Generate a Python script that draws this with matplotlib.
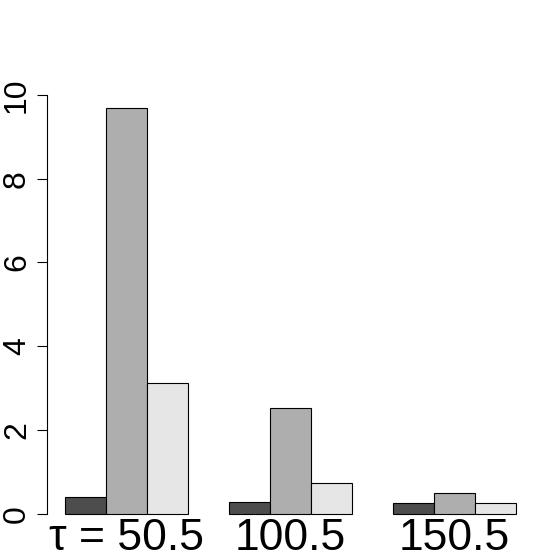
import matplotlib
matplotlib.use("Agg")
import matplotlib.pyplot as plt
import matplotlib.transforms as mtransforms
import numpy as np

groups = ["τ = 50.5", "100.5", "150.5"]
series_dark = [0.41, 0.29, 0.26]
series_mid = [9.68, 2.52, 0.49]
series_light = [3.12, 0.73, 0.26]
yticks = [0, 2, 4, 6, 8, 10]
colors = ["#4D4D4D", "#AEAEAE", "#E6E6E6"]

plt.rcParams['font.family'] = ['Liberation Sans', 'DejaVu Sans']

W, H = 553, 552
fig = plt.figure(figsize=(W / 100, H / 100), dpi=100)
left, right, top, bottom = 47, 534, 92, 530
ax = fig.add_axes([left / W, 1 - bottom / H, (right - left) / W, (bottom - top) / H])

series = [series_dark, series_mid, series_light]
for gi in range(len(groups)):
    start = 1 + gi * 4
    for si, vals in enumerate(series):
        ax.bar(start + si, vals[gi], width=1, align='edge', color=colors[si],
               edgecolor='black', linewidth=0.8)

ax.set_xlim(0.56, 12.44)
ax.set_ylim(-0.387, 10.07)
for s in ['top', 'right', 'bottom']:
    ax.spines[s].set_visible(False)
ax.spines['left'].set_bounds(0, 10)
ax.spines['left'].set_linewidth(0.8)
ax.set_xticks([])
ax.set_yticks(yticks)
ax.set_yticklabels([])
ax.tick_params(axis='y', length=7.2, width=0.8)

trans = mtransforms.blended_transform_factory(fig.transFigure, ax.transData)
for v in yticks:
    fig.text(25 / W, v, str(v), transform=trans, rotation=90, rotation_mode='anchor',
             ha='center', va='baseline', fontsize=23)

for gi, g in enumerate(groups):
    cx = 1 + gi * 4 + 1.5
    xf = (left + (cx - 0.56) / (12.44 - 0.56) * (right - left)) / W
    fig.text(xf, 1.5 / H, g, ha='center', va='baseline', fontsize=32)

fig.savefig("out.png", dpi=100)
